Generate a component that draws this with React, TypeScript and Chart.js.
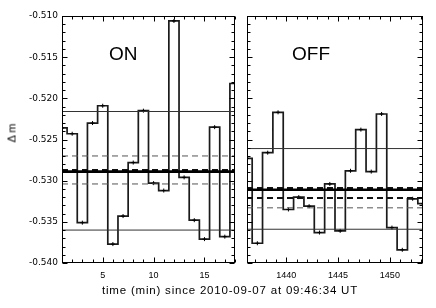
import React, { useEffect, useRef } from 'react';
import { Chart, registerables } from 'chart.js';

Chart.register(...registerables);

// ---- data ----
const ON_TIME = [1, 2, 3, 4, 5, 6, 7, 8, 9, 10, 11, 12, 13, 14, 15, 16, 17, 18];
const ON_DM = [
  -0.5236, -0.5243, -0.5351, -0.523, -0.5209, -0.5377, -0.5343, -0.5278, -0.5215,
  -0.5303, -0.5312, -0.5106, -0.5296, -0.5348, -0.5371, -0.5235, -0.5368, -0.5182,
];
const OFF_TIME = [
  1436.2, 1437.2, 1438.2, 1439.2, 1440.2, 1441.2, 1442.2, 1443.2, 1444.2,
  1445.2, 1446.2, 1447.2, 1448.2, 1449.2, 1450.2, 1451.2, 1452.2, 1453.2,
];
const OFF_DM = [
  -0.5273, -0.5376, -0.5266, -0.5217, -0.5335, -0.532, -0.5331, -0.5363, -0.5304,
  -0.5361, -0.5288, -0.5238, -0.5289, -0.5219, -0.5357, -0.5384, -0.5322, -0.5328,
];

// reference levels
const ON_THIN_SOLID = [-0.5216, -0.536];
const ON_THIN_DASHED = [-0.527, -0.5304];
const ON_THICK_SOLID = [-0.5289];
const ON_THICK_DASHED = [-0.5287];

const OFF_THIN_SOLID = [-0.5261, -0.5359];
const OFF_THIN_DASHED = [-0.5333];
const OFF_THICK_SOLID = [-0.5311];
const OFF_THICK_DASHED = [-0.5309, -0.5321];

// ticks
const ON_X_TICKS = [5, 10, 15];
const OFF_X_TICKS = [1440, 1445, 1450];
const Y_TICKS = [-0.54, -0.535, -0.53, -0.525, -0.52, -0.515, -0.51];
const Y_MIN = -0.54;
const Y_MAX = -0.51;

const FONT = '"Liberation Sans", Arial, sans-serif';
const TICK_FONT = '"DejaVu Sans", "Liberation Sans", sans-serif';

function range(a: number, b: number, step: number) {
  const out: number[] = [];
  for (let v = a; v <= b + step * 1e-6; v += step) out.push(+v.toFixed(6));
  return out;
}

const idlAxes = {
  id: 'idlAxes',
  afterDatasetsDraw(chart: any, _args: any, opts: any) {
    const { ctx, chartArea: a, scales } = chart;
    const xs = scales.x;
    const ys = scales.y;
    ctx.save();
    ctx.strokeStyle = '#000';
    ctx.lineWidth = 1;
    const L = Math.round(a.left) + 0.5;
    const R = Math.round(a.right) - 0.5;
    const T = Math.round(a.top) + 0.5;
    const B = Math.round(a.bottom) - 0.5;
    ctx.strokeRect(L, T, R - L, B - T);
    ctx.beginPath();
    const xMinor: number[] = opts.xMinor || [];
    const xMajor: number[] = opts.xMajor || [];
    for (const v of xMinor) {
      if (v < xs.min || v > xs.max) continue;
      const len = xMajor.includes(v) ? 5 : 3;
      const px = Math.round(xs.getPixelForValue(v)) + 0.5;
      ctx.moveTo(px, B);
      ctx.lineTo(px, B - len);
      ctx.moveTo(px, T);
      ctx.lineTo(px, T + len);
    }
    const yMinor = range(Y_MIN, Y_MAX, 0.001);
    for (const v of yMinor) {
      const major = Y_TICKS.some((t) => Math.abs(t - v) < 1e-6);
      const len = major ? 5 : 3;
      const py = Math.round(ys.getPixelForValue(v)) + 0.5;
      ctx.moveTo(L, py);
      ctx.lineTo(L + len, py);
      ctx.moveTo(R, py);
      ctx.lineTo(R - len, py);
    }
    ctx.stroke();
    ctx.restore();
  },
};

function hline(y: number, xmin: number, xmax: number, width: number, color: string, dash: number[]) {
  return {
    type: 'line' as const,
    data: [
      { x: xmin, y },
      { x: xmax, y },
    ],
    borderColor: color,
    borderWidth: width,
    borderDash: dash,
    pointRadius: 0,
    fill: false,
  };
}

function makeConfig(p: {
  times: number[];
  values: number[];
  thinSolid: number[];
  thinDashed: number[];
  thickSolid: number[];
  thickDashed: number[];
  xTicks: number[];
  xMinor: number[];
  showY: boolean;
  padLeft: number;
  padRight: number;
}) {
  const xmin = p.times[0];
  const xmax = p.times[p.times.length - 1];
  const datasets: any[] = [];
  p.thinSolid.forEach((v) => datasets.push(hline(v, xmin, xmax, 1, '#333', [])));
  p.thinDashed.forEach((v) => datasets.push(hline(v, xmin, xmax, 1, '#555', [6, 4])));
  p.thickSolid.forEach((v) => datasets.push(hline(v, xmin, xmax, 2.6, '#000', [])));
  p.thickDashed.forEach((v) => datasets.push(hline(v, xmin, xmax, 2, '#111', [6, 4])));
  datasets.push({
    type: 'line',
    data: p.times.map((t, i) => ({ x: t, y: p.values[i] })),
    stepped: 'middle',
    borderColor: '#1a1a1a',
    borderWidth: 1.7,
    pointStyle: 'cross',
    pointRadius: 2,
    pointBorderWidth: 1,
    pointBorderColor: '#000',
    fill: false,
  });
  return {
    type: 'line' as const,
    data: { datasets },
    options: {
      animation: false as const,
      responsive: false,
      events: [],
      layout: { padding: { left: p.padLeft, right: p.padRight, top: 16, bottom: 25 } },
      plugins: {
        legend: { display: false },
        tooltip: { enabled: false },
        idlAxes: { xMinor: p.xMinor, xMajor: p.xTicks },
      },
      scales: {
        x: {
          type: 'linear' as const,
          min: xmin,
          max: xmax,
          grid: { display: false, drawTicks: false },
          border: { display: false },
          ticks: {
            color: '#000',
            font: { family: FONT, size: 9 },
            padding: 7,
            maxRotation: 0,
            autoSkip: false,
            callback: (v: any) => String(Math.round(Number(v))),
          },
          afterBuildTicks: (s: any) => {
            s.ticks = p.xTicks.map((v) => ({ value: v }));
          },
          afterFit: (s: any) => {
            s.height = 20;
          },
        },
        y: {
          type: 'linear' as const,
          display: p.showY,
          min: Y_MIN,
          max: Y_MAX,
          grid: { display: false, drawTicks: false },
          border: { display: false },
          ticks: {
            color: '#000',
            font: { family: TICK_FONT, size: 9 },
            padding: 4,
            callback: (v: any) => Number(v).toFixed(3),
          },
          afterBuildTicks: (s: any) => {
            s.ticks = Y_TICKS.map((v) => ({ value: v }));
          },
          afterFit: (s: any) => {
            s.width = p.showY ? 62 : 0;
          },
        },
      },
    },
    plugins: [idlAxes],
  };
}

export default function App() {
  const leftRef = useRef<HTMLCanvasElement>(null);
  const rightRef = useRef<HTMLCanvasElement>(null);

  useEffect(() => {
    const left = new Chart(
      leftRef.current as HTMLCanvasElement,
      makeConfig({
        times: ON_TIME,
        values: ON_DM,
        thinSolid: ON_THIN_SOLID,
        thinDashed: ON_THIN_DASHED,
        thickSolid: ON_THICK_SOLID,
        thickDashed: ON_THICK_DASHED,
        xTicks: ON_X_TICKS,
        xMinor: range(1, 18, 1),
        showY: true,
        padLeft: 0,
        padRight: 5,
      }) as any
    );
    const right = new Chart(
      rightRef.current as HTMLCanvasElement,
      makeConfig({
        times: OFF_TIME,
        values: OFF_DM,
        thinSolid: OFF_THIN_SOLID,
        thinDashed: OFF_THIN_DASHED,
        thickSolid: OFF_THICK_SOLID,
        thickDashed: OFF_THICK_DASHED,
        xTicks: OFF_X_TICKS,
        xMinor: range(1437, 1453, 1),
        showY: false,
        padLeft: 7,
        padRight: 13,
      }) as any
    );
    return () => {
      left.destroy();
      right.destroy();
    };
  }, []);

  const txt: React.CSSProperties = {
    position: 'absolute',
    fontFamily: FONT,
    color: '#000',
    whiteSpace: 'nowrap',
    lineHeight: 1,
  };

  return (
    <div style={{ position: 'fixed', left: 0, top: 0, width: 436, height: 308, background: '#fff', overflow: 'hidden' }}>
      <canvas ref={leftRef} width={240} height={308} style={{ position: 'absolute', left: 0, top: 0, width: 240, height: 308 }} />
      <canvas ref={rightRef} width={196} height={308} style={{ position: 'absolute', left: 240, top: 0, width: 196, height: 308 }} />
      <div style={{ ...txt, left: 109, top: 44, fontSize: 19 }}>ON</div>
      <div style={{ ...txt, left: 292, top: 44, fontSize: 19 }}>OFF</div>
      <div
        style={{
          ...txt,
          left: 12,
          top: 133,
          fontSize: 11,
          transform: 'translate(-50%, -50%) rotate(-90deg)',
        }}
      >
        Δ m
      </div>
      <div
        style={{
          ...txt,
          left: 230,
          top: 285,
          fontSize: 11.5,
          letterSpacing: 0.8,
          transform: 'translateX(-50%)',
        }}
      >
        time (min) since 2010-09-07 at 09:46:34 UT
      </div>
    </div>
  );
}
